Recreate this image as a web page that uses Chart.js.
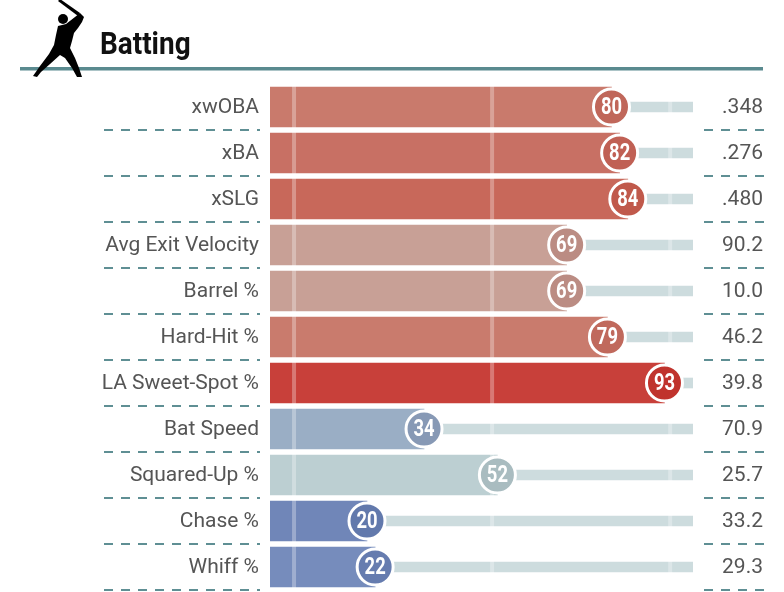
<!DOCTYPE html>
<html lang="en">
  <head>
    <meta charset="UTF-8" />
    <title>Batting Percentiles</title>
    <script src="https://cdn.jsdelivr.net/npm/chart.js"></script>
    <style>
      body {
        margin: 0;
        background: #fff;
        font-family: Roboto, sans-serif;
      }
      .wrap {
        position: relative;
        width: 784px;
        height: 592px;
      }
      .batter {
        position: absolute;
        left: 0;
        top: 0;
      }
    </style>
  </head>
  <body>
    <div class="wrap">
      <canvas id="percentileChart"></canvas>
      <!-- batter silhouette -->
      <svg class="batter" width="100" height="80" viewBox="0 0 100 80">
        <path d="M58,1 L60,-1 L80,13 L78,16 Z" fill="#000" />
        <circle cx="63" cy="19" r="5" fill="#000" />
        <path
          d="M58,26 L66,24 L75,17 L80,13 L84,17 L82,22 L78,28 L74,33 L72,41 L70,48
             L75,58 L79,68 L82,77 L77,77 L72,68 L65,58 L60,55 L50,64 L41,72 L37,77
             L33,76 L40,66 L49,54 L54,45 L56,35 Z"
          fill="#000"
        />
      </svg>
    </div>

    <script>
      const metrics = [
        "xwOBA",
        "xBA",
        "xSLG",
        "Avg Exit Velocity",
        "Barrel %",
        "Hard-Hit %",
        "LA Sweet-Spot %",
        "Bat Speed",
        "Squared-Up %",
        "Chase %",
        "Whiff %",
      ];
      const percentiles = [80, 82, 84, 69, 69, 79, 93, 34, 52, 20, 22];
      const statValues = [
        ".348", ".276", ".480", "90.2", "10.0", "46.2",
        "39.8", "70.9", "25.7", "33.2", "29.3",
      ];
      const referenceLines = [2.1, 50.7, 94.4];

      // colours per row (bar is a lighter tint of the circle)
      const barColors = [
        "#c97a6c", "#c87064", "#c8685a", "#c8a096", "#c8a096", "#c97b6d",
        "#c8403a", "#9aaec5", "#bccfd2", "#7086b8", "#768cbc",
      ];
      const circleColors = [
        "#c0675a", "#c06054", "#c0594b", "#bb8c83", "#bb8c83", "#c0695c",
        "#c0332d", "#8799b5", "#a9bcc0", "#6279ac", "#667caf",
      ];

      const X_MIN = -3.8;
      const X_MAX = 100;

      function squeezedText(ctx, text, x, y, align, sx) {
        ctx.save();
        ctx.translate(x, y);
        ctx.scale(sx, 1);
        ctx.textAlign = align;
        ctx.fillText(text, 0, 0);
        ctx.restore();
      }

      const percentilePlugin = {
        id: "percentileDecor",
        afterDatasetsDraw(chart) {
          const { ctx, chartArea } = chart;
          const xs = chart.scales.x;
          const ys = chart.scales.y;
          const half = (ys.getPixelForValue(1) - ys.getPixelForValue(0)) / 2;

          // faint reference lines over bars and tracks
          ctx.save();
          ctx.strokeStyle = "rgba(255,255,255,0.3)";
          ctx.lineWidth = 4;
          referenceLines.forEach((v) => {
            const x = xs.getPixelForValue(v);
            ctx.beginPath();
            ctx.moveTo(x, chartArea.top);
            ctx.lineTo(x, chartArea.bottom);
            ctx.stroke();
          });
          ctx.restore();

          // header
          ctx.save();
          ctx.fillStyle = "#111";
          ctx.font = "bold 31px Roboto";
          ctx.textBaseline = "alphabetic";
          squeezedText(ctx, "Batting", 100, 54, "left", 0.9);
          ctx.fillStyle = "#5a8a8f";
          ctx.fillRect(20, 67, 743, 3.5);
          ctx.restore();

          metrics.forEach((name, i) => {
            const y = ys.getPixelForValue(i);
            const cx = xs.getPixelForValue(percentiles[i]);

            // dashed separators
            ctx.save();
            ctx.strokeStyle = "#5f8f94";
            ctx.lineWidth = 2;
            ctx.setLineDash([9, 8]);
            ctx.beginPath();
            ctx.moveTo(104, y + half);
            ctx.lineTo(260, y + half);
            ctx.moveTo(704, y + half);
            ctx.lineTo(765, y + half);
            ctx.stroke();
            ctx.restore();

            // percentile circle
            ctx.save();
            ctx.beginPath();
            ctx.arc(cx, y, 18, 0, Math.PI * 2);
            ctx.fillStyle = circleColors[i];
            ctx.fill();
            ctx.lineWidth = 3;
            ctx.strokeStyle = "#fff";
            ctx.stroke();
            ctx.fillStyle = "#fff";
            ctx.font = "bold 23px Roboto";
            ctx.textBaseline = "middle";
            squeezedText(ctx, String(percentiles[i]), cx, y + 1, "center", 0.8);
            ctx.restore();

            // labels and raw values
            ctx.save();
            ctx.fillStyle = "#555";
            ctx.font = "21px Roboto";
            ctx.textBaseline = "middle";
            squeezedText(ctx, name, 259, y + 1, "right", 1);
            squeezedText(ctx, statValues[i], 763, y + 1, "right", 1);
            ctx.restore();
          });
        },
      };

      const ctx = document.getElementById("percentileChart").getContext("2d");
      const percentileChart = new Chart(ctx, {
        type: "bar",
        data: {
          labels: metrics,
          datasets: [
            {
              label: "Percentile",
              data: percentiles.map((p) => [X_MIN, p]),
              backgroundColor: barColors,
              barThickness: 40,
              grouped: false,
              borderWidth: 0,
              order: 1,
            },
            {
              label: "Track",
              data: percentiles.map((p) => [p, X_MAX]),
              backgroundColor: "#cddcde",
              barThickness: 10,
              grouped: false,
              borderWidth: 0,
              order: 2,
            },
          ],
        },
        options: {
          indexAxis: "y",
          responsive: true,
          maintainAspectRatio: false,
          animation: false,
          layout: {
            padding: { left: 270, right: 91, top: 84, bottom: 2 },
          },
          scales: {
            x: { display: false, min: X_MIN, max: X_MAX },
            y: { display: false },
          },
          plugins: {
            legend: { display: false },
            tooltip: { enabled: false },
          },
        },
        plugins: [percentilePlugin],
      });
    </script>
  </body>
</html>
